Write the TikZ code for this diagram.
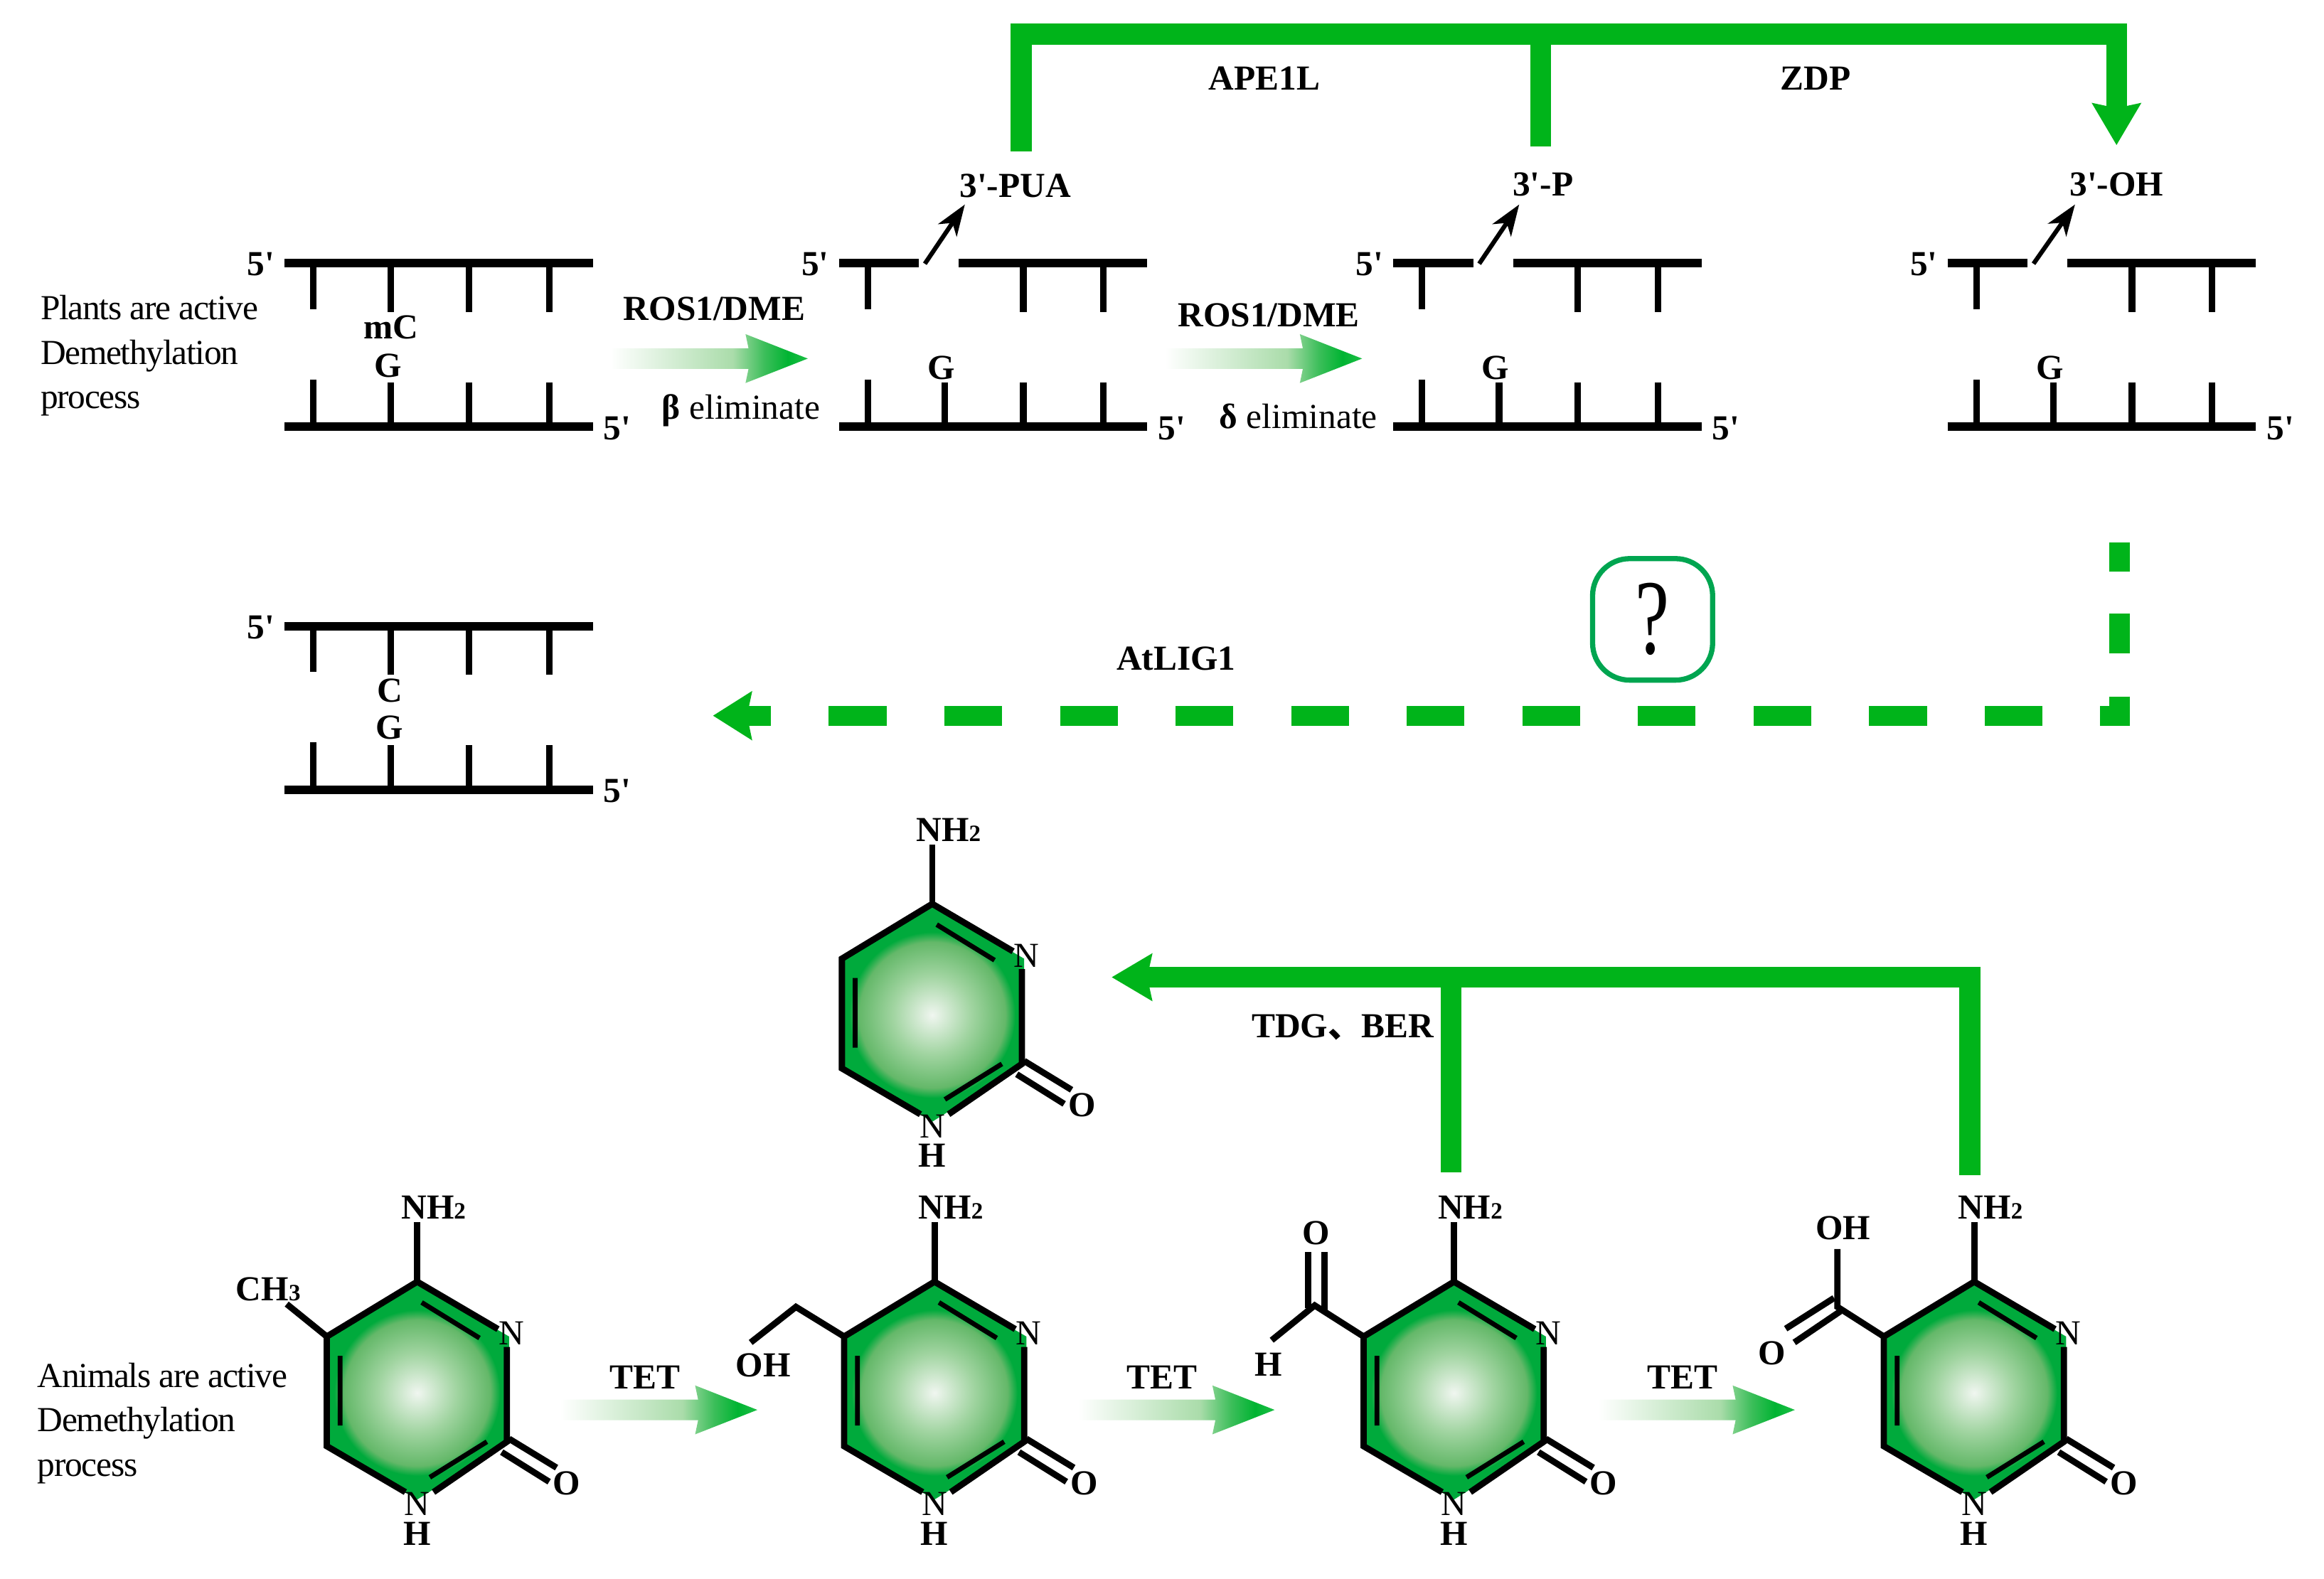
\documentclass[tikz,border=0pt]{standalone}
\usepackage{fontspec}
\usetikzlibrary{arrows.meta}
\newfontfamily\serifbody{Liberation Serif}
\newfontfamily\tightbody[LetterSpace=-2.6]{Liberation Serif}
\newfontfamily\slimbody[FakeStretch=0.72]{Liberation Serif}
\newfontfamily\cjkbody{Noto Sans CJK SC}
\newcommand{\smalldigit}[1]{{\fontsize{9}{9}\selectfont #1}}
\definecolor{pathgreen}{RGB}{0,180,26}
\definecolor{ringgreen}{RGB}{0,170,60}
\definecolor{boxgreen}{RGB}{0,165,80}
\definecolor{glowa}{RGB}{240,246,240}
\definecolor{glowb}{RGB}{160,212,160}
\definecolor{glowc}{RGB}{100,184,105}
\definecolor{flowa}{RGB}{170,220,170}
\definecolor{flowb}{RGB}{60,190,90}
\definecolor{flowc}{RGB}{0,180,50}
\definecolor{flowd}{RGB}{30,190,70}
\pgfdeclareradialshading{ringglow}{\pgfpointorigin}{color(0bp)=(glowa); color(12bp)=(glowb); color(22bp)=(glowc); color(25bp)=(ringgreen); color(50bp)=(ringgreen)}
\pgfdeclarehorizontalshading{flowfade}{100bp}{color(0bp)=(white); color(25bp)=(white); color(56bp)=(flowa); color(64bp)=(flowb); color(70bp)=(flowc); color(75bp)=(flowd); color(100bp)=(flowd)}

\begin{document}
\begin{tikzpicture}[x=0.02cm, y=-0.02cm,
  lbl/.style={font=\fontsize{13.5}{16}\serifbody\bfseries, inner sep=0pt},
  plainlbl/.style={font=\fontsize{13.5}{16}\serifbody, inner sep=0pt},
  sidelbl/.style={font=\fontsize{13.5}{17}\tightbody, inner sep=0pt, anchor=west, align=left},
  strandbar/.style={draw=black, line width=0.115cm},
  tooth/.style={draw=black, line width=0.09cm},
  bond/.style={draw=black, line width=0.085cm},
  innerbond/.style={draw=black, line width=0.065cm},
  greenedge/.style={draw=pathgreen, line width=0.28cm},
  nickarrow/.style={draw=black, line width=0.06cm, -{Stealth[length=0.42cm, width=0.3cm, inset=0.12cm]}},
  qbox/.style={draw=boxgreen, line width=0.07cm, rounded corners=0.5cm, minimum width=1.62cm, minimum height=1.64cm, inner sep=0pt, font=\fontsize{41}{41}\slimbody},
  topstrand/.pic={
    \draw[strandbar] (0,0) -- (208,0);
    \draw[tooth] (19.5,0) -- (19.5,31) (71.5,0) -- (71.5,33) (124.5,0) -- (124.5,33) (178.5,0) -- (178.5,33);
    \node[lbl] (five) at (-16,1) {5'};
  },
  nickstrand/.pic={
    \draw[strandbar] (0,0) -- (54,0) (81,0) -- (208,0);
    \draw[tooth] (19.5,0) -- (19.5,31) (124.5,0) -- (124.5,33) (178.5,0) -- (178.5,33);
    \coordinate (nick) at (58,0.5);
    \node[lbl] (five) at (-16,1) {5'};
  },
  lowstrand/.pic={
    \draw[strandbar] (0,0) -- (208,0);
    \draw[tooth] (19.5,0) -- (19.5,-32) (71.5,0) -- (71.5,-30) (124.5,0) -- (124.5,-30) (178.5,0) -- (178.5,-30);
    \node[lbl] (five) at (224.5,1) {5'};
  },
  flowarrow/.pic={
    \shade[shading=flowfade] (0,-7) -- (93,-7) -- (91,-16.5) -- (133,0) -- (91,16.5) -- (93,7) -- (0,7) -- cycle;
  },
  ring/.pic={
    \fill[ringgreen] (0,-74) -- (62,-38) -- (62,33) -- (0,72) -- (-61,36) -- (-61,-38) -- cycle;
    \begin{scope}
      \clip (0,-74) -- (62,-38) -- (62,33) -- (0,72) -- (-61,36) -- (-61,-38) -- cycle;
      \shade[shading=ringglow] (0,0) circle (56);
    \end{scope}
    \coordinate (corner) at (-61,-38);
    \draw[bond, line join=miter] (54.5,-43) -- (0,-75) -- (-61,-38) -- (-61,36) -- (-8,67);
    \draw[bond] (60.5,-31) -- (60.5,33) -- (11,67);
    \draw[bond] (0,-75) -- (0,-115);
    \draw[innerbond] (3,-61) -- (42,-37) (-52,-25) -- (-52,22) (8.5,57) -- (47,33);
    \draw[bond] (62,31) -- (94,50.5) (57,40) -- (89,60);
    \node[lbl] (amine) at (11,-125) {NH\smalldigit{2}};
    \node[plainlbl] (upn) at (63.5,-40) {N};
    \node[plainlbl] (lown) at (0,75) {N};
    \node[lbl] (lowh) at (0,95) {H};
    \node[lbl] (oxy) at (101,61) {O};
  }
]
\useasboundingbox (0,0) rectangle (1568,1065.6);

\pic (sa) at (192,177.5) {topstrand};
\pic (ta) at (192,288) {lowstrand};
\pic (sb) at (566,177.5) {nickstrand};
\pic (tb) at (566,288) {lowstrand};
\pic (sc) at (940,177.5) {nickstrand};
\pic (tc) at (940,288) {lowstrand};
\pic (sd) at (1314,177.5) {nickstrand};
\pic (td) at (1314,288) {lowstrand};
\pic (se) at (192,422.5) {topstrand};
\pic (te) at (192,533) {lowstrand};

\node[sidelbl] (nplants) at (27,240) {Plants are active\\Demethylation\\process};
\node[lbl] (nmc) at (264,221) {mC};
\node[lbl] (nga) at (262,247) {G};
\node[lbl] (ngb) at (635,248) {G};
\node[lbl] (ngc) at (1009,248) {G};
\node[lbl] (ngd) at (1383,248) {G};
\node[lbl] (nce) at (263,466) {C};
\node[lbl] (nge) at (263,491) {G};

\pic (fa) at (412,242) {flowarrow};
\pic (fb) at (786,242) {flowarrow};
\node[lbl] (nrosa) at (482,208.5) {ROS1/DME};
\node[lbl] (nrosb) at (856,212.5) {ROS1/DME};
\node[plainlbl] (nbeta) at (500,277) {{\bfseries β} eliminate};
\node[plainlbl] (ndelta) at (876,281) {{\bfseries δ} eliminate};

\node[lbl] (npua) at (685,125.5) {3'-PUA};
\node[lbl] (nphos) at (1041,124.5) {3'-P};
\node[lbl] (nhydro) at (1428,124.5) {3'-OH};
\node[lbl] (nape) at (853,53) {APE1L};
\node[lbl] (nzdp) at (1225,53) {ZDP};
\node[lbl] (nlig) at (793.5,444.5) {AtLIG1};
\node[qbox] (nq) at (1115,418) {?};

\coordinate (tipb) at (651,138);
\coordinate (tipc) at (1025,138);
\coordinate (tipd) at (1400,138);
\draw[nickarrow] (sbnick) -- (tipb);
\draw[nickarrow] (scnick) -- (tipc);
\draw[nickarrow] (sdnick) -- (tipd);

\coordinate (cpua) at (689,102);
\coordinate (cphos) at (1039.5,99);
\coordinate (cjoin) at (1039.5,23);
\coordinate (ctop) at (1428,23);
\coordinate (chydro) at (1428,98);
\draw[greenedge, -{Stealth[length=0.56cm, width=0.64cm, inset=0.06cm]}] (cpua) |- (ctop) -- (chydro);
\draw[greenedge] (cphos) -- (cjoin);

\coordinate (cdasha) at (1430,366);
\coordinate (cdashb) at (1430,490);
\coordinate (cdashc) at (1437,483);
\coordinate (cdashd) at (481,483);
\draw[draw=pathgreen, line width=0.28cm, dash pattern=on 0.4cm off 0.56cm on 0.54cm off 0.58cm on 0.4cm] (cdasha) -- (cdashb);
\draw[draw=pathgreen, line width=0.27cm, dash pattern=on 0.78cm off 0.78cm, dash phase=0.38cm, -{Stealth[length=0.52cm, width=0.64cm, inset=0.06cm]}] (cdashc) -- (cdashd);

\pic (rtop) at (629,685) {ring};
\pic (ra) at (281.5,940) {ring};
\pic (rb) at (630.5,940) {ring};
\pic (rc) at (981,940) {ring};
\pic (rd) at (1332,940) {ring};

\coordinate (cform) at (979,791);
\coordinate (cjoinb) at (979,659.5);
\coordinate (ccarb) at (1329,793);
\coordinate (cback) at (750,659.5);
\draw[greenedge, -{Stealth[length=0.54cm, width=0.62cm, inset=0.06cm]}] (ccarb) |- (cback);
\draw[greenedge] (cform) -- (cjoinb);
\node[lbl] (ntdg) at (906,693.5) {TDG{\cjkbody\fontsize{13}{16}\selectfont 、}BER};

\node[sidelbl] (nanimals) at (25,960.5) {Animals are active\\Demethylation\\process};
\pic (ga) at (378,951.5) {flowarrow};
\pic (gb) at (727,951.5) {flowarrow};
\pic (gc) at (1078,951.5) {flowarrow};
\node[lbl] (ntea) at (435,929.5) {TET};
\node[lbl] (nteb) at (784,929.5) {TET};
\node[lbl] (ntec) at (1135,929.5) {TET};

% side groups on the rings
\node[lbl, inner sep=1pt] (nch) at (181,870) {CH\smalldigit{3}};
\draw[bond] (racorner) -- (nch);

\coordinate (chain) at (537,882);
\coordinate (chainend) at (506.5,906);
\node[lbl] (nohb) at (515,921.5) {OH};
\draw[bond, line join=miter] (rbcorner) -- (chain) -- (chainend);

\coordinate (formc) at (887,881);
\coordinate (formh) at (858,904.5);
\node[lbl] (noc) at (888,832) {O};
\node[lbl] (nhc) at (856,921) {H};
\draw[bond, line join=miter] (rccorner) -- (formc) -- (formh);
\draw[bond] (882.5,883) -- (882.5,845) (893.5,886) -- (893.5,845);

\coordinate (carbc) at (1239.7,882);
\coordinate (carbh) at (1239.7,843);
\node[lbl] (nohd) at (1243.5,829) {OH};
\node[lbl] (nod) at (1195.5,913) {O};
\draw[bond, line join=miter] (rdcorner) -- (carbc) -- (carbh);
\draw[bond] (1237.4,876) -- (1204.8,896.7) (1241.6,885) -- (1210.6,906);
\end{tikzpicture}
\end{document}
